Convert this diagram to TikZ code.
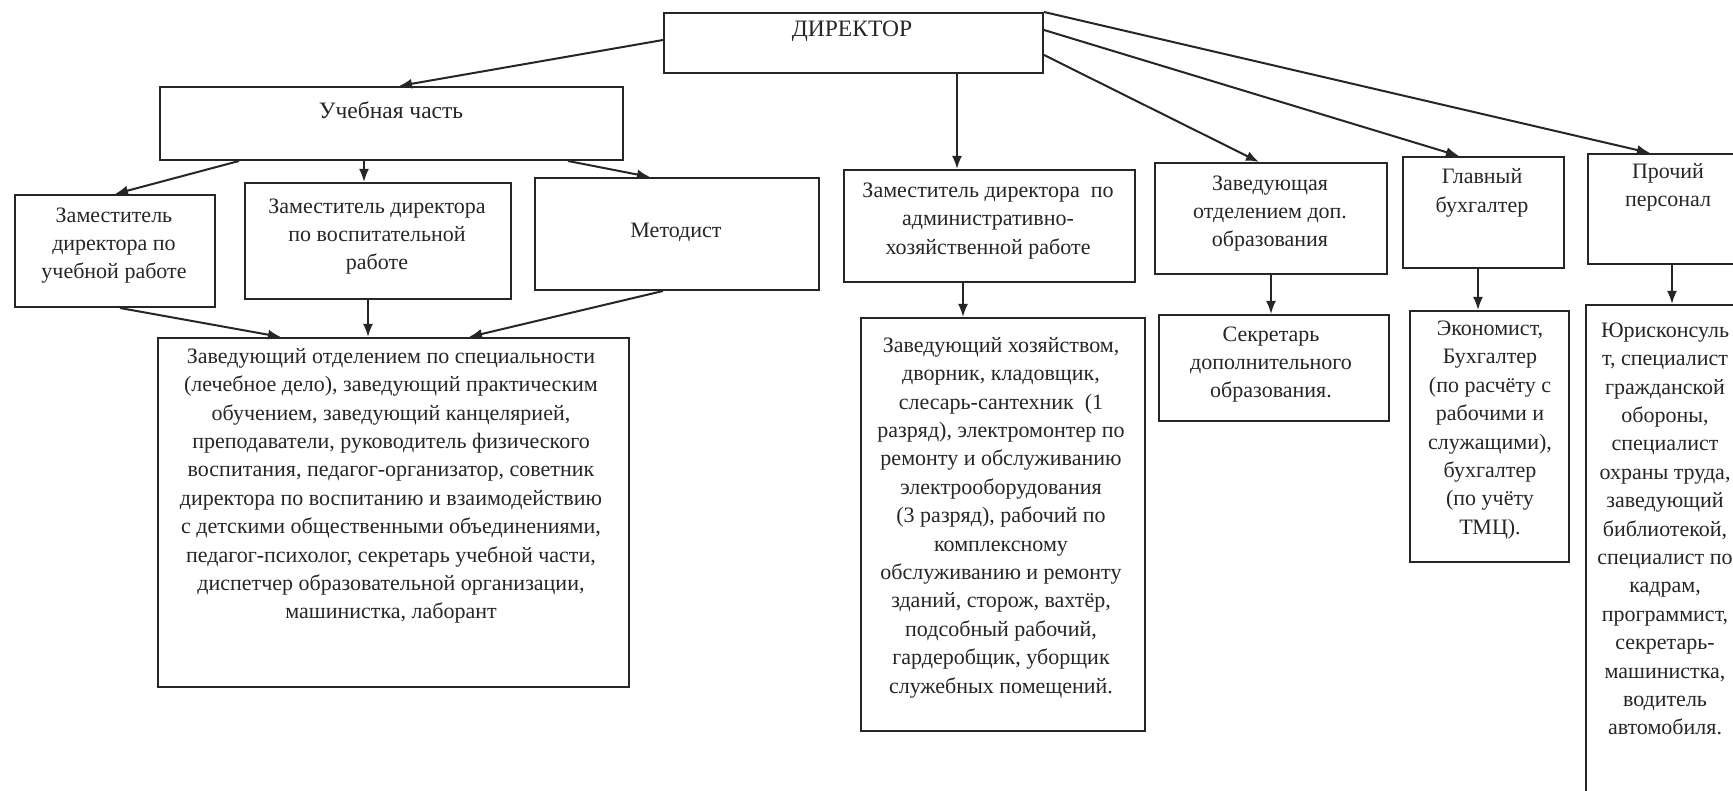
\documentclass[tikz,border=0pt]{standalone}
\usepackage{fontspec}
\setmainfont{Liberation Serif}
\usetikzlibrary{arrows.meta,calc}
\definecolor{ink}{HTML}{262626}
\tikzset{
  box/.style={draw=ink, line width=2pt, rectangle, inner sep=0pt, anchor=north west},
  txt/.style={text=ink, align=center, inner sep=0pt, font=\fontsize{22}{28.4}\selectfont},
  bigtxt/.style={txt, font=\fontsize{23.5}{28.4}\selectfont},
  conn/.style={draw=ink, line width=2pt, -{Latex[length=13pt,width=10pt]}},
}
\begin{document}
\begin{tikzpicture}[x=1pt,y=-1pt]
\useasboundingbox (0,0) rectangle (1733,791);
\fill[white] (0,0) rectangle (1733,791);
% boxes
\node[box, minimum width=379pt, minimum height=60pt]  (dir)    at (663,12)  {};
\node[box, minimum width=463pt, minimum height=73pt]  (uch)    at (159,86)  {};
\node[box, minimum width=200pt, minimum height=112pt] (zamur)  at (14,194)  {};
\node[box, minimum width=266pt, minimum height=116pt] (zamvr)  at (244,182) {};
\node[box, minimum width=284pt, minimum height=112pt] (metod)  at (534,177) {};
\node[box, minimum width=291pt, minimum height=112pt] (zamahr) at (843,169) {};
\node[box, minimum width=232pt, minimum height=111pt] (zavdop) at (1154,162) {};
\node[box, minimum width=161pt, minimum height=111pt] (glbuh)  at (1402,156) {};
\node[box, minimum width=163pt, minimum height=110pt] (proch)  at (1587,153) {};
\node[box, minimum width=471pt, minimum height=349pt] (big)    at (157,337) {};
\node[box, minimum width=284pt, minimum height=413pt] (ahr)    at (860,317) {};
\node[box, minimum width=230pt, minimum height=106pt] (sekr)   at (1158,314) {};
\node[box, minimum width=159pt, minimum height=251pt] (econ)   at (1409,310) {};
\node[box, minimum width=162pt, minimum height=520pt] (yur)    at (1585,304) {};
% texts
\node[bigtxt] (dirT) at (852,31)    {ДИРЕКТОР};
\node[bigtxt] (uchT) at (391,110)   {Учебная часть};
\node[txt] (zamurT)  at (114,245.5) {Заместитель\\директора по\\учебной работе};
\node[txt] (zamvrT)  at (377,236.5) {Заместитель директора\\по воспитательной\\работе};
\node[txt] (metodT)  at (676,232)   {Методист};
\node[txt] (zamahrT) at (988,221)   {Заместитель директора\ \ по\\административно-\\хозяйственной работе};
\node[txt] (zavdopT) at (1270,213.5){Заведующая\\отделением доп.\\образования};
\node[txt] (glbuhT)  at (1482,193)  {Главный\\бухгалтер};
\node[txt] (prochT)  at (1668,187.5){Прочий\\персонал};
\node[txt] (bigT)    at (391,486)   {Заведующий отделением по специальности\\(лечебное дело), заведующий практическим\\обучением, заведующий канцелярией,\\преподаватели, руководитель физического\\воспитания, педагог-организатор, советник\\директора по воспитанию и взаимодействию\\с детскими общественными объединениями,\\педагог-психолог, секретарь учебной части,\\диспетчер образовательной организации,\\машинистка, лаборант};
\node[txt] (ahrT)    at (1001,517.5){Заведующий хозяйством,\\дворник, кладовщик,\\слесарь-сантехник\ \ (1\\разряд), электромонтер по\\ремонту и обслуживанию\\электрооборудования\\(3 разряд), рабочий по\\комплексному\\обслуживанию и ремонту\\зданий, сторож, вахтёр,\\подсобный рабочий,\\гардеробщик, уборщик\\служебных помещений.};
\node[txt] (sekrT)   at (1271,364.5){Секретарь\\дополнительного\\образования.};
\node[txt] (econT)   at (1490,430)  {Экономист,\\Бухгалтер\\(по расчёту с\\рабочими и\\служащими),\\бухгалтер\\(по учёту\\ТМЦ).};
\node[txt] (yurT)    at (1665,529)  {Юрисконсуль\\т, специалист\\гражданской\\обороны,\\специалист\\охраны труда,\\заведующий\\библиотекой,\\специалист по\\кадрам,\\программист,\\секретарь-\\машинистка,\\водитель\\автомобиля.};
% connectors
\draw[conn] ($(dir.north west)+(0,28)$) -- ($(uch.north west)+(240,0)$);
\draw[conn] ($(dir.south west)+(294,0)$) -- ($(zamahr.north west)+(114,0)$);
\draw[conn] ($(dir.north east)+(0,43)$) -- ($(zavdop.north west)+(105,0)$);
\draw[conn] ($(dir.north east)+(0,18)$) -- ($(glbuh.north west)+(57,0)$);
\draw[conn] (dir.north east) -- ($(proch.north west)+(63,0)$);
\draw[conn] ($(uch.south west)+(80,0)$) -- ($(zamur.north west)+(101,0)$);
\draw[conn] ($(uch.south west)+(205,0)$) -- ($(zamvr.north west)+(120,0)$);
\draw[conn] ($(uch.south west)+(409,0)$) -- ($(metod.north west)+(116,0)$);
\draw[conn] ($(zamur.south west)+(106,0)$) -- ($(big.north west)+(124,0)$);
\draw[conn] ($(zamvr.south west)+(124,0)$) -- ($(big.north west)+(211,0)$);
\draw[conn] ($(metod.south west)+(129,0)$) -- ($(big.north west)+(312,0)$);
\draw[conn] ($(zamahr.south west)+(120,0)$) -- ($(ahr.north west)+(103,0)$);
\draw[conn] ($(zavdop.south west)+(117,0)$) -- ($(sekr.north west)+(113,0)$);
\draw[conn] ($(glbuh.south west)+(76,0)$) -- ($(econ.north west)+(69,0)$);
\draw[conn] ($(proch.south west)+(85,0)$) -- ($(yur.north west)+(87,0)$);
\end{tikzpicture}
\end{document}
